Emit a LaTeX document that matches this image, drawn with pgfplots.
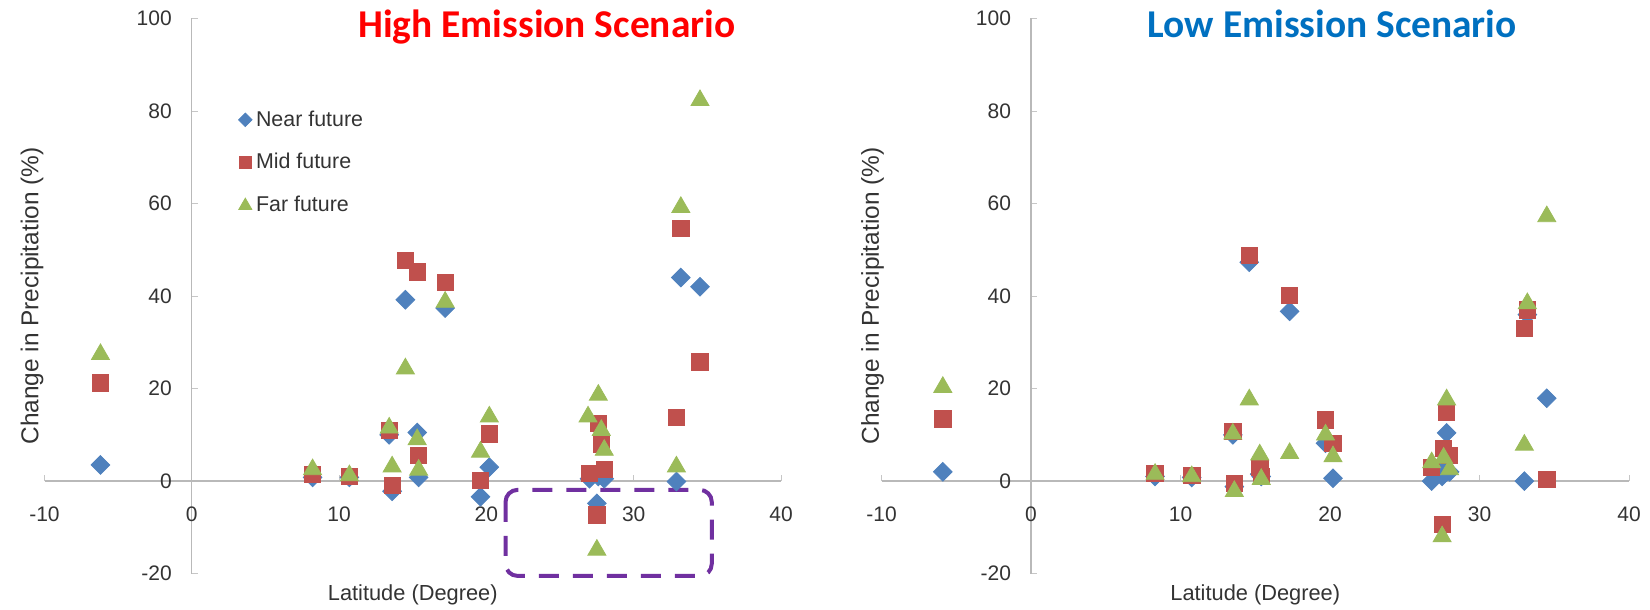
\documentclass[border=0pt]{standalone}
\usepackage{pgfplots}
\pgfplotsset{compat=1.18}
\usepackage{fontspec}
\setmainfont{Liberation Sans}
\newfontfamily\titlefont{Carlito}
\definecolor{nearc}{HTML}{4F81BD}
\definecolor{midc}{HTML}{C0504D}
\definecolor{farc}{HTML}{9BBB59}
\definecolor{hired}{HTML}{FF0000}
\definecolor{loblue}{HTML}{0070C0}
\definecolor{purp}{HTML}{7030A0}
\definecolor{txt}{HTML}{333333}

\pgfplotsset{
  myax/.style={
    scale only axis,
    height=277.55pt,
    xmin=-10,xmax=40,ymin=-20,ymax=100,
    axis lines=middle,
    axis line style={draw=gray!55, line width=0.6pt, -},
    xtick={-10,0,10,20,30,40},
    ytick={-20,0,20,40,60,80,100},
    hide obscured x ticks=false,
    hide obscured y ticks=false,
    tick style={draw=gray!45, line width=0.5pt},
    tick align=inside,
    major tick length=3pt,
    ticklabel style={font=\fontsize{10.5}{12}\selectfont, text=txt},
    /pgf/number format/assume math mode=true,
    xticklabel style={yshift=-9.5pt},
    yticklabel style={xshift=-6.5pt},
    xlabel={Latitude (Degree)},
    ylabel={Change in Precipitation (\%)},
    x label style={at={(axis description cs:0.5,-0.038)}, anchor=center,
      font=\fontsize{10.9}{12}\selectfont, text=txt},
    clip=false,
    legend image code/.code={\draw[/tikz/every mark/.append style={scale=0.72}] plot coordinates {(0pt,0pt)};},
  },
  nearst/.style={only marks, mark=square*, color=nearc,
    mark options={rotate=45, fill=nearc, draw=nearc}, mark size=3.3pt},
  midst/.style={only marks, mark=square*, color=midc,
    mark options={fill=midc, draw=midc}, mark size=4.1pt},
  farst/.style={only marks, mark=triangle*, color=farc,
    mark options={fill=farc, draw=farc}, mark size=5.2pt},
}

\begin{document}
\begin{tikzpicture}
\path[use as bounding box] (0,0) rectangle (825pt,305pt);

% ---------------- High emission ----------------
\begin{axis}[myax,
  width=368.25pt,
  at={(22.25pt,18.2pt)}, anchor=south west,
  y label style={at={(axis description cs:-0.017,0.5)}, anchor=center, rotate=90,
      font=\fontsize{12.2}{14}\selectfont, text=txt},
  legend style={at={(axis description cs:0.263,0.842)}, anchor=north west,
      draw=none, fill=none, font=\fontsize{10.7}{12}\selectfont, text=txt,
      row sep=8.2pt, inner sep=0pt},
  legend cell align=left,
]
\addplot[nearst] coordinates {
(-6.2,3.5) (8.2,0.8) (10.7,0.8) (13.4,10) (13.6,-2.2) (14.5,39.2) (15.3,10.5)
(15.4,0.8) (17.2,37.4) (19.6,-3.4) (20.2,3.0) (27.0,0.5) (27.5,-4.8) (27.6,1.0)
(27.8,2.0) (28.0,0.5) (32.9,-0.1) (33.2,44.0) (34.5,42.0)};
\addlegendentry{Near future}
\addplot[midst] coordinates {
(-6.2,21.2) (8.2,1.5) (10.7,1.0) (13.4,11.0) (13.6,-0.9) (14.5,47.7) (15.3,45.2)
(15.4,5.5) (17.2,43.0) (19.6,0.1) (20.2,10.2) (27.0,1.6) (27.5,-7.3) (27.6,12.5)
(27.8,8.0) (28.0,2.5) (32.9,13.8) (33.2,54.6) (34.5,25.8)};
\addlegendentry{Mid future}
\addplot[farst] coordinates {
(-6.2,27.4) (8.2,2.5) (10.7,1.2) (13.4,11.5) (13.6,3.1) (14.5,24.3) (15.3,9.0)
(15.4,2.4) (17.2,38.7) (19.6,6.3) (20.2,13.9) (26.9,13.9) (27.5,-14.9) (27.6,18.6)
(27.8,11.0) (28.0,6.7) (32.9,3.1) (33.2,59.2) (34.5,82.3)};
\addlegendentry{Far future}
\draw[purp, line width=2pt, dash pattern=on 10pt off 7pt, rounded corners=6pt]
  (axis cs:21.3,-1.9) rectangle (axis cs:35.3,-20.5);
\node[anchor=base, font=\titlefont\bfseries\fontsize{19.7}{22}\selectfont, text=hired]
  at (axis description cs:0.682,0.965) {High Emission Scenario};
\end{axis}

% ---------------- Low emission ----------------
\begin{axis}[myax,
  width=373.75pt,
  at={(440.75pt,18.2pt)}, anchor=south west,
  y label style={at={(axis description cs:-0.012,0.5)}, anchor=center, rotate=90,
      font=\fontsize{12.2}{14}\selectfont, text=txt},
]
\addplot[nearst] coordinates {
(-5.9,2.0) (8.3,1.0) (10.75,0.8) (13.5,10.0) (13.6,-1.2) (14.6,47.3) (15.3,1.5)
(15.4,1.0) (17.3,36.7) (19.7,8.2) (20.2,0.6) (26.8,0.0) (27.5,1.0) (27.6,3.0)
(27.8,10.4) (28.0,2.0) (33.0,0.0) (33.2,36.0) (34.5,17.9)};
\addplot[midst] coordinates {
(-5.9,13.4) (8.3,1.7) (10.75,1.2) (13.5,10.7) (13.6,-0.5) (14.6,48.8) (15.3,3.0)
(15.4,1.0) (17.3,40.2) (19.7,13.2) (20.2,8.2) (26.8,3.0) (27.5,-9.4) (27.6,7.1)
(27.8,14.8) (28.0,5.5) (33.0,33.0) (33.2,37.0) (34.5,0.3)};
\addplot[farst] coordinates {
(-5.9,20.3) (8.3,1.5) (10.75,1.0) (13.5,10.2) (13.6,-2.2) (14.6,17.6) (15.3,5.7)
(15.4,0.4) (17.3,6.0) (19.7,10.0) (20.2,5.3) (26.8,4.0) (27.5,-12.0) (27.6,5.0)
(27.8,17.6) (28.0,2.5) (33.0,7.8) (33.2,38.4) (34.5,57.2)};
\node[anchor=base, font=\titlefont\bfseries\fontsize{19.7}{22}\selectfont, text=loblue]
  at (axis description cs:0.603,0.965) {Low Emission Scenario};
\end{axis}
\end{tikzpicture}
\end{document}
